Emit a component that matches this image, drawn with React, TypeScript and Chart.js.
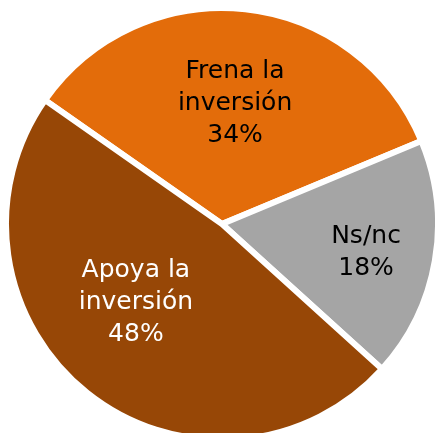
import React, { useEffect, useRef } from "react";
import { Chart, registerables } from "chart.js";

Chart.register(...registerables);

const categories = ["Frena la inversión", "Ns/nc", "Apoya la inversión"];
const categoryLines = [["Frena la", "inversión"], ["Ns/nc"], ["Apoya la", "inversión"]];
const values = [34, 18, 48];
const colors = ["#E36C0A", "#A5A5A5", "#974706"];
const labelColors = ["#000000", "#000000", "#FFFFFF"];
// label placement: fraction of radius and angular tweak (degrees) from slice bisector
const labelRadiusFrac = [0.56, 0.68, 0.54];
const labelAngleAdj = [0, 1.5, 9];

const labelPlugin = {
  id: "sliceLabels",
  afterDatasetsDraw(chart: any) {
    const ctx = chart.ctx;
    const meta = chart.getDatasetMeta(0);
    const total = values.reduce((a, b) => a + b, 0);
    ctx.save();
    ctx.font = "25px 'DejaVu Sans'";
    ctx.textAlign = "center";
    ctx.textBaseline = "middle";
    const lineH = 32;
    meta.data.forEach((arc: any, i: number) => {
      const p = arc.getProps(["x", "y", "startAngle", "endAngle", "outerRadius"], true);
      const mid = (p.startAngle + p.endAngle) / 2 + (labelAngleAdj[i] * Math.PI) / 180;
      const r = p.outerRadius * labelRadiusFrac[i];
      const cx = p.x + Math.cos(mid) * r;
      const cy = p.y + Math.sin(mid) * r;
      const lines = [...categoryLines[i], Math.round((values[i] / total) * 100) + "%"];
      const startY = cy - ((lines.length - 1) * lineH) / 2;
      ctx.fillStyle = labelColors[i];
      lines.forEach((t, k) => ctx.fillText(t, cx, startY + k * lineH));
    });
    ctx.restore();
  },
};

export default function App() {
  const ref = useRef<HTMLCanvasElement>(null);
  useEffect(() => {
    if (!ref.current) return;
    const chart = new Chart(ref.current, {
      type: "pie",
      data: {
        labels: categories,
        datasets: [
          {
            data: values,
            backgroundColor: colors,
            borderColor: "#FFFFFF",
            borderWidth: 6,
            borderJoinStyle: "miter",
          },
        ],
      },
      options: {
        animation: false,
        responsive: false,
        rotation: -55,
        layout: { padding: 0 },
        plugins: {
          legend: { display: false },
          tooltip: { enabled: false },
        },
      },
      plugins: [labelPlugin],
    });
    return () => chart.destroy();
  }, []);
  return (
    <div
      style={{
        position: "fixed",
        left: 0,
        top: 0,
        width: 435,
        height: 433,
        overflow: "hidden",
        background: "#fff",
      }}
    >
      <canvas
        ref={ref}
        width={438}
        height={438}
        style={{ position: "absolute", left: 3, top: 5, width: 438, height: 438 }}
      />
    </div>
  );
}
